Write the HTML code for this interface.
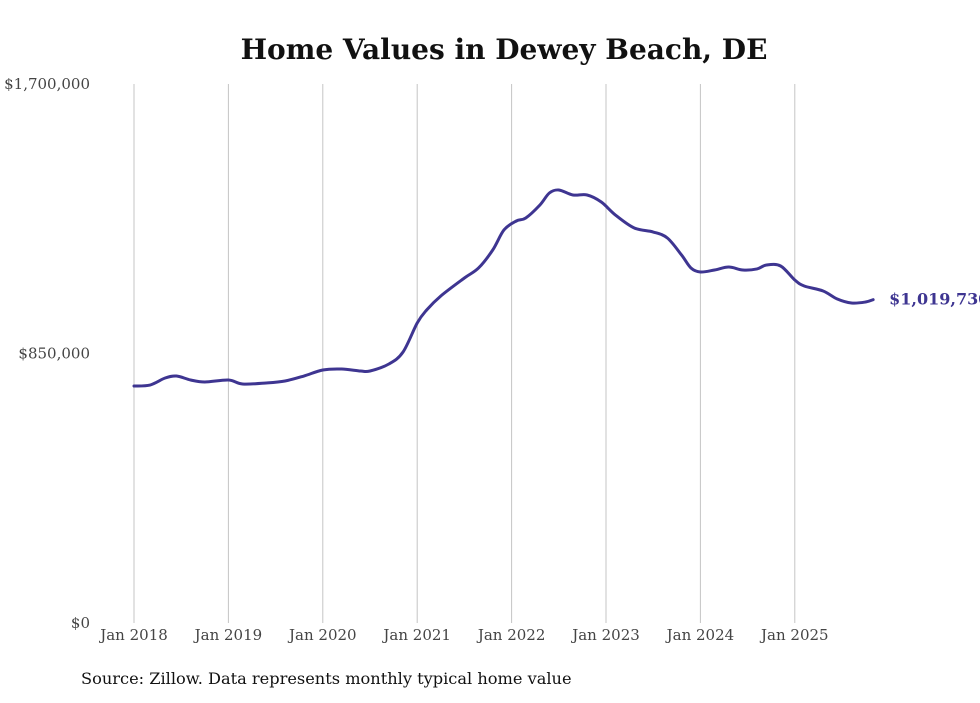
<!DOCTYPE html>
<html><head><meta charset="utf-8"><style>
body{margin:0;background:#fff;width:980px;height:699px;overflow:hidden;font-family:"DejaVu Serif",serif;}
</style></head><body>
<svg id="chart" width="980" height="699" style="font-family:'DejaVu Serif',serif">
<text x="504" y="59" text-anchor="middle" font-size="28" font-weight="bold" fill="#111">Home Values in Dewey Beach, DE</text>
<g id="grid"></g><g id="yaxis"></g><g id="xaxis"></g><g id="series"></g>
<text x="81" y="684" font-size="16.2" fill="#111">Source: Zillow. Data represents monthly typical home value</text>
</svg>
<script>
const yTicks=[0,850000,1700000];
const yTickLabels=["$0","$850,000","$1,700,000"];
const xTicks=[2018,2019,2020,2021,2022,2023,2024,2025];
const xTickLabels=["Jan 2018","Jan 2019","Jan 2020","Jan 2021","Jan 2022","Jan 2023","Jan 2024","Jan 2025"];
const dates=[2018.0,2018.17,2018.33,2018.45,2018.6,2018.75,2019.0,2019.15,2019.4,2019.6,2019.8,2020.0,2020.2,2020.4,2020.5,2020.7,2020.85,2021.0,2021.1,2021.25,2021.5,2021.65,2021.8,2021.92,2022.05,2022.15,2022.3,2022.4,2022.5,2022.65,2022.8,2022.95,2023.1,2023.3,2023.5,2023.65,2023.8,2023.9,2024.0,2024.15,2024.3,2024.45,2024.6,2024.7,2024.85,2025.0,2025.1,2025.3,2025.45,2025.6,2025.75,2025.83];
const values=[747500,750600,772700,779000,766400,760100,766400,753800,757000,763300,779000,798000,801100,794800,794800,816900,854700,946200,987200,1031400,1088100,1119700,1176400,1240000,1267900,1277400,1318400,1356200,1365700,1349900,1349900,1327800,1286800,1245800,1233200,1214300,1160700,1119700,1107100,1113400,1122800,1113400,1116700,1129100,1126000,1081800,1062900,1047100,1021900,1009300,1012400,1019730];
const lastLabel="$1,019,730";
const NS="http://www.w3.org/2000/svg";
const x=d=>134+(d-2018)*94.4;
const y=v=>623-v/1700000*539;
function mk(tag,attrs,parent,text){const e=document.createElementNS(NS,tag);for(const k in attrs)e.setAttribute(k,attrs[k]);if(text!==undefined)e.textContent=text;document.getElementById(parent).appendChild(e);return e;}
xTicks.forEach((t,i)=>{
 const l=mk('line',{x1:x(t),x2:x(t),y1:84,y2:623,stroke:'#c4c4c4','stroke-width':1},'grid');
 
 
 const tx=mk('text',{x:x(t),y:640,'text-anchor':'middle','font-size':15,fill:'#444'},'xaxis',xTickLabels[i]);
 
 
});
yTicks.forEach((t,i)=>{
 const tx=mk('text',{x:90,y:y(t)+5,'text-anchor':'end','font-size':15,fill:'#444'},'yaxis',yTickLabels[i]);
 
 
});
const pts=dates.map((d,i)=>[x(d),y(values[i])]);
let p=`M${pts[0][0]},${pts[0][1]}`;
for(let i=0;i<pts.length-1;i++){const p0=pts[Math.max(0,i-1)],p1=pts[i],p2=pts[i+1],p3=pts[Math.min(pts.length-1,i+2)];
 p+=` C${p1[0]+(p2[0]-p0[0])/6},${p1[1]+(p2[1]-p0[1])/6} ${p2[0]-(p3[0]-p1[0])/6},${p2[1]-(p3[1]-p1[1])/6} ${p2[0]},${p2[1]}`;}
const path=mk('path',{d:p,fill:'none',stroke:'#3e3591','stroke-width':3,'stroke-linejoin':'round','stroke-linecap':'round'},'series');


const last=pts[pts.length-1];
const lab=mk('text',{x:last[0]+16,y:last[1]+5,'font-size':16,'font-weight':'bold',fill:'#3e3591'},'series',lastLabel);


</script>
</body></html>
